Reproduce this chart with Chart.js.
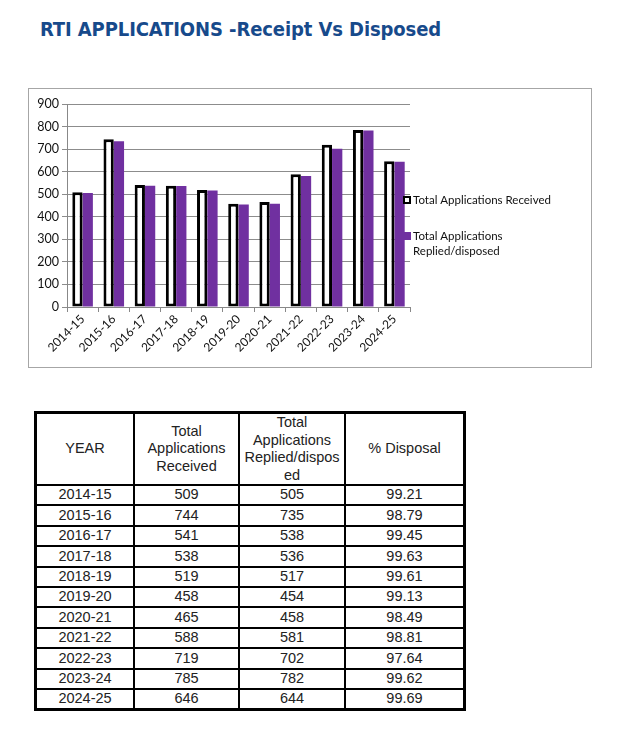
<!DOCTYPE html>
<html>
<head>
<meta charset="utf-8">
<script src="https://cdn.jsdelivr.net/npm/chart.js@4.4.1/dist/chart.umd.min.js"></script>
<style>
	body { margin: 0; background: #fff; width: 620px; height: 730px; position: relative; overflow: hidden; }
	h1 {
		position: absolute; left: 40px; top: 17px; margin: 0;
		font: bold 20px "DejaVu Sans Condensed", "DejaVu Sans", sans-serif;
		color: #174a8b; letter-spacing: -0.1px;
	}
	.chart-box {
		position: absolute; left: 28px; top: 88px; width: 562px; height: 278px;
		border: 1px solid #a6a6a6;
	}
	table {
		position: absolute; left: 34px; top: 411px; width: 432px;
		border-collapse: collapse; border: 3px solid #000;
		font: 14.5px "Liberation Sans", Arial, sans-serif; color: #222;
	}
	td, th { border: 2px solid #000; text-align: center; padding: 0; font-weight: normal; line-height: 17.5px; }
	th { height: 70px; }
	td { height: 18.4px; }
</style>
</head>
<body>
<h1>RTI APPLICATIONS -Receipt Vs Disposed</h1>
<div class="chart-box"><canvas id="rti" width="562" height="278"></canvas></div>
<table id="rti-table">
	<thead>
		<tr>
			<th style="width:96px">YEAR</th>
			<th style="width:103px">Total<br>Applications<br>Received</th>
			<th style="width:104px">Total<br>Applications<br>Replied/dispos<br>ed</th>
			<th>% Disposal</th>
		</tr>
	</thead>
	<tbody></tbody>
</table>
<script>
var years = ['2014-15', '2015-16', '2016-17', '2017-18', '2018-19', '2019-20', '2020-21', '2021-22', '2022-23', '2023-24', '2024-25'];
var received = [509, 744, 541, 538, 519, 458, 465, 588, 719, 785, 646];
var disposed = [505, 735, 538, 536, 517, 454, 458, 581, 702, 782, 644];
var pctDisposal = ['99.21', '98.79', '99.45', '99.63', '99.61', '99.13', '98.49', '98.81', '97.64', '99.62', '99.69'];
var seriesNames = ['Total Applications Received', 'Total Applications Replied/disposed'];

// table rows
var tbody = document.querySelector('#rti-table tbody');
years.forEach(function (y, i) {
	var tr = document.createElement('tr');
	[y, received[i], disposed[i], pctDisposal[i]].forEach(function (v) {
		var td = document.createElement('td');
		td.textContent = v;
		tr.appendChild(td);
	});
	tbody.appendChild(tr);
});

var chartFont = '"Lato", "Liberation Sans", sans-serif';

// legend drawn at the right, Excel style (wraps long labels)
var sideLegend = {
	id: 'sideLegend',
	afterDraw: function (chart) {
		var ctx = chart.ctx;
		var x = chart.chartArea.right - 7;
		var mid = chart.height / 2;
		var rows = [mid - 28, mid + 8];
		ctx.save();
		ctx.font = '11.5px ' + chartFont;
		ctx.textBaseline = 'middle';
		chart.data.datasets.forEach(function (ds, i) {
			var y = rows[i];
			ctx.fillStyle = ds.backgroundColor;
			ctx.fillRect(x, y - 4, 8, 8);
			if (ds.borderWidth) {
				ctx.lineWidth = 2;
				ctx.strokeStyle = ds.borderColor;
				ctx.strokeRect(x + 1, y - 3, 6, 6);
			}
			ctx.fillStyle = '#111';
			var words = ds.label.split(' ');
			var line = '';
			var lines = [];
			words.forEach(function (w) {
				var test = line ? line + ' ' + w : w;
				if (ctx.measureText(test).width > 165 && line) {
					lines.push(line);
					line = w;
				} else {
					line = test;
				}
			});
			lines.push(line);
			lines.forEach(function (t, k) {
				ctx.fillText(t, x + 10, y + k * 15);
			});
		});
		ctx.restore();
	}
};

new Chart(document.getElementById('rti'), {
	type: 'bar',
	data: {
		labels: years,
		datasets: [{
			label: seriesNames[0],
			data: received,
			backgroundColor: '#ffffff',
			borderColor: '#000000',
			borderWidth: 3,
			borderSkipped: false
		}, {
			label: seriesNames[1],
			data: disposed,
			backgroundColor: '#7030a0',
			borderWidth: 0
		}]
	},
	options: {
		responsive: false,
		animation: false,
		categoryPercentage: 0.66,
		barPercentage: 1.0,
		layout: { padding: { top: 15, right: 181, left: 0, bottom: 0 } },
		plugins: {
			legend: { display: false },
			tooltip: { enabled: false }
		},
		scales: {
			x: {
				grid: { drawOnChartArea: false, drawTicks: true, tickLength: 5, color: '#888' },
				border: { color: '#888' },
				ticks: {
					color: '#111', font: { family: chartFont, size: 12 },
					maxRotation: 45, minRotation: 45, padding: 0
				},
				afterFit: function (s) { s.height = 60; }
			},
			y: {
				min: 0, max: 900,
				grid: { color: '#8c8c8c', tickLength: 5 },
				border: { color: '#888' },
				ticks: {
					stepSize: 100, color: '#111', padding: 3,
					font: { family: chartFont, size: 12.5 }
				},
				afterFit: function (s) { s.width = 38; }
			}
		}
	},
	plugins: [sideLegend]
});
</script>
</body>
</html>
